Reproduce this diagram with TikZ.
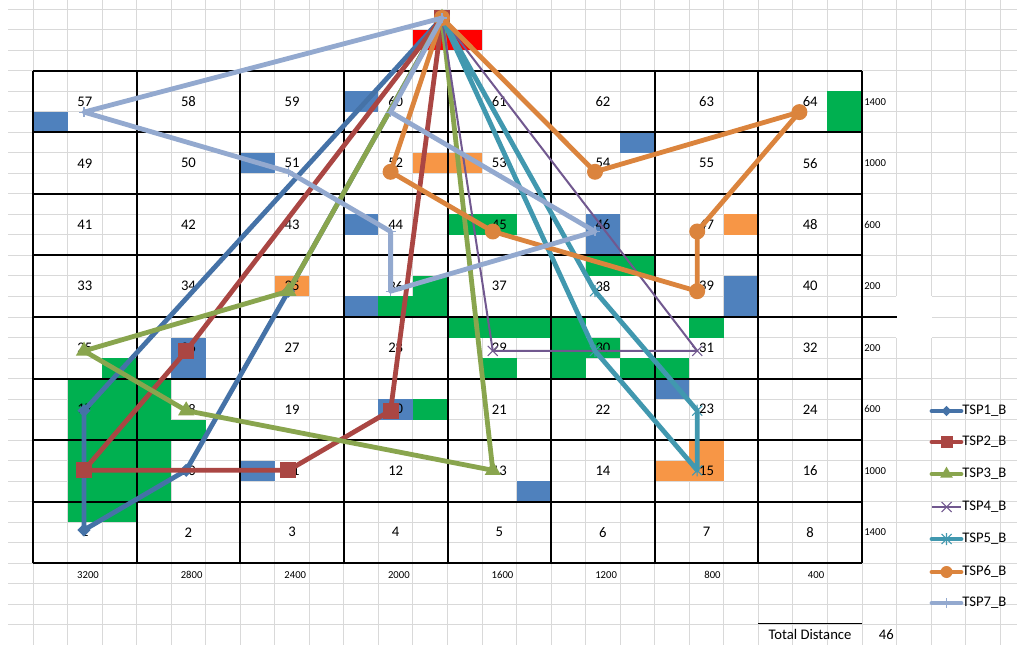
\documentclass[tikz,border=0pt]{standalone}
\usepackage{fontspec}
\setmainfont{Carlito}
\usetikzlibrary{shapes.geometric,shapes.misc}
\definecolor{gridc}{HTML}{D9D9D9}
\definecolor{cA}{HTML}{4572A7}
\definecolor{cB}{HTML}{AA4643}
\definecolor{cC}{HTML}{89A54E}
\definecolor{cD}{HTML}{71588F}
\definecolor{cE}{HTML}{4198AF}
\definecolor{cF}{HTML}{DB843D}
\definecolor{cG}{HTML}{93A9CF}
\definecolor{fblue}{HTML}{4F81BD}
\definecolor{fgreen}{HTML}{00B050}
\definecolor{forange}{HTML}{F79646}
\definecolor{fred}{HTML}{FF0000}
\tikzset{
 gridln/.style={draw=gridc, line width=0.75pt},
 tblln/.style={draw=black, line width=1.5pt},
 route/.style={line width=3.6pt, line join=round, line cap=round},
 thinroute/.style={line width=1.5pt, line join=round},
 mkA/.style={diamond, fill=cA, minimum size=10pt, inner sep=0pt},
 mkB/.style={rectangle, fill=cB, minimum size=12pt, inner sep=0pt},
 mkC/.style={regular polygon, regular polygon sides=3, fill=cC, minimum size=14pt, inner sep=0pt},
 mkF/.style={circle, fill=cF, minimum size=12pt, inner sep=0pt},
 celltxt/.style={font=\fontsize{11pt}{13pt}\selectfont, inner sep=0pt},
 smalltxt/.style={font=\fontsize{8pt}{9pt}\selectfont, inner sep=0pt},
 xmark/.pic={\draw[cD, line width=0.8pt] (-5,-5)--(5,5) (-5,5)--(5,-5);},
 astmark/.pic={\draw[cE, line width=0.8pt] (-5,-5)--(5,5) (-5,5)--(5,-5) (0,-6)--(0,6);},
 plusmark/.pic={\draw[cG, line width=0.8pt] (-5,0)--(5,0) (0,-5)--(0,5);},
}
\newcommand\xcell[5]{\fill[#1] ({33+#2*34.5417},{71+#3*20.5}) rectangle ({33+(#2+#4)*34.5417},{71+(#3+#5)*20.5});}
\begin{document}
\begin{tikzpicture}[x=0.75pt,y=-0.75pt]
\useasboundingbox (0,0) rectangle (1017,645);
\fill[white] (0,0) rectangle (1017,645);
% spreadsheet gridlines
\foreach \k in {0,...,28} \draw[gridln] ({33+\k*34.5417},0) -- ({33+\k*34.5417},645);
\foreach \k in {-3,...,28} \draw[gridln] (8,{71+\k*20.5}) -- (1017,{71+\k*20.5});
% blank (white) cells right of the table
\fill[white] (896.2,296) rectangle (931.6,338);
% cell fills
\xcell{fred}{11}{-2}{2}{1}
\xcell{fblue}{0}{2}{1}{1}
\xcell{fblue}{9}{1}{1}{1}
\xcell{fblue}{6}{4}{1}{1}
\xcell{fblue}{17}{3}{1}{1}
\xcell{fblue}{9}{7}{1}{1}
\xcell{fblue}{16}{7}{1}{2}
\xcell{fblue}{9}{11}{1}{1}
\xcell{fblue}{20}{10}{1}{2}
\xcell{fblue}{4}{13}{1}{2}
\xcell{fblue}{18}{15}{1}{1}
\xcell{fblue}{10}{16}{1}{1}
\xcell{fblue}{6}{19}{1}{1}
\xcell{fblue}{14}{20}{1}{1}
\xcell{forange}{11}{4}{2}{1}
\xcell{forange}{7}{10}{1}{1}
\xcell{forange}{20}{7}{1}{1}
\xcell{forange}{19}{18}{1}{1}
\xcell{forange}{18}{19}{2}{1}
\xcell{fgreen}{23}{1}{1}{2}
\xcell{fgreen}{12}{7}{2}{1}
\xcell{fgreen}{11}{10}{1}{1}
\xcell{fgreen}{10}{11}{2}{1}
\xcell{fgreen}{16}{9}{2}{1}
\xcell{fgreen}{12}{12}{3}{1}
\xcell{fgreen}{15}{12}{1}{3}
\xcell{fgreen}{19}{12}{1}{1}
\xcell{fgreen}{16}{13}{1}{1}
\xcell{fgreen}{13}{14}{1}{1}
\xcell{fgreen}{17}{14}{2}{1}
\xcell{fgreen}{2}{14}{1}{1}
\xcell{fgreen}{1}{15}{2}{7}
\xcell{fgreen}{3}{15}{1}{6}
\xcell{fgreen}{4}{17}{1}{1}
\xcell{fgreen}{11}{16}{1}{1}
% table borders
\foreach \k in {0,...,8} \draw[tblln] ({33+\k*103.625},71) -- ({33+\k*103.625},563);
\foreach \k in {0,...,8} \draw[tblln] (33,{71+\k*61.5}) -- (862,{71+\k*61.5});
\draw[black, line width=1pt] (862,317) -- (897,317);
\draw[black, line width=0.8pt] (758,623.5) -- (862,623.5);
% cell numbers
\foreach \n in {1,...,64}{
  \pgfmathtruncatemacro\cc{mod(\n-1,8)+1}
  \pgfmathtruncatemacro\rr{int((\n-1)/8)+1}
  \node[celltxt] (lbl\n) at ({33+(\cc-0.5)*103.625},{71+(8.5-\rr)*61.5}) {\n};
  \coordinate (p\n) at ({84+(\cc-1)*102.2},{530-(\rr-1)*59.7});
}
\foreach \v [count=\i] in {1400,1000,600,200,200,600,1000,1400}
  \node[smalltxt, anchor=west] (ry\i) at (864,{71+(\i-0.5)*61.5}) {\v};
\foreach \v [count=\i] in {3200,2800,2400,2000,1600,1200,800,400}
  \node[smalltxt, anchor=east] (bx\i) at ({33+(3*\i-1)*34.5417-3},575) {\v};
\node[celltxt] (tdl) at (810,634.5) {Total Distance};
\node[celltxt, anchor=east] (tdv) at (894,634.5) {46};
\coordinate (dep) at (442,18);
% TSP1
\draw[route, cA] (dep) -- (p17) -- (p1) -- (p10) -- (p35) -- (dep);
\foreach \p [count=\i] in {dep,p17,p1,p10,p35} \node[mkA] (mA\i) at (\p) {};
% TSP2
\draw[route, cB] (dep) -- (p26) -- (p9) -- (p11) -- (p20) -- (dep);
\foreach \p [count=\i] in {dep,p26,p9,p11,p20} \node[mkB] (mB\i) at (\p) {};
% TSP3
\draw[route, cC] (dep) -- (p35) -- (p25) -- (p18) -- (p13) -- (dep);
\foreach \p [count=\i] in {dep,p35,p25,p18,p13} \node[mkC] (mC\i) at (\p) {};
% TSP4
\draw[thinroute, cD] (dep) -- (p29) -- (p31) -- (dep);
\foreach \p in {dep,p29,p31} \pic at (\p) {xmark};
% TSP5
\draw[route, cE] (dep) -- (p38) -- (p23) -- (p15) -- (p30) -- (dep);
\foreach \p in {dep,p38,p23,p15,p30} \pic at (\p) {astmark};
% TSP6
\draw[route, cF] (dep) -- (p52) -- (p45) -- (p39) -- (p47) -- (p64) -- (p54) -- (dep);
\foreach \p [count=\i] in {dep,p52,p45,p39,p47,p64,p54} \node[mkF] (mF\i) at (\p) {};
% TSP7
\draw[route, cG] (dep) -- (p57) -- (p51) -- (p44) -- (p36) -- (p46) -- (p60) -- (dep);
\foreach \p in {dep,p57,p51,p44,p36,p46,p60} \pic at (\p) {plusmark};
% legend
\foreach \c/\t/\y [count=\i] in {cA/TSP1\_B/411,cB/TSP2\_B/442,cC/TSP3\_B/474,cD/TSP4\_B/507,cE/TSP5\_B/539,cF/TSP6\_B/572,cG/TSP7\_B/603}{
  \coordinate (lga\i) at (932,\y);
  \coordinate (lgb\i) at (961,\y);
  \node[celltxt, anchor=west] (lgt\i) at (962,\y) {\t};
}
\draw[route, cA] (lga1) -- (lgb1); \node[mkA, minimum size=8pt] (lm1) at (946.5,411) {};
\draw[route, cB] (lga2) -- (lgb2); \node[mkB, minimum size=9pt] (lm2) at (946.5,442) {};
\draw[route, cC] (lga3) -- (lgb3); \node[mkC, minimum size=11pt] (lm3) at (946.5,474) {};
\draw[thinroute, cD] (lga4) -- (lgb4); \pic at (946.5,507) {xmark};
\draw[route, cE] (lga5) -- (lgb5); \pic at (946.5,539) {astmark};
\draw[route, cF] (lga6) -- (lgb6); \node[mkF, minimum size=9pt] (lm6) at (946.5,572) {};
\draw[route, cG] (lga7) -- (lgb7); \pic at (946.5,603) {plusmark};
\end{tikzpicture}
\end{document}
